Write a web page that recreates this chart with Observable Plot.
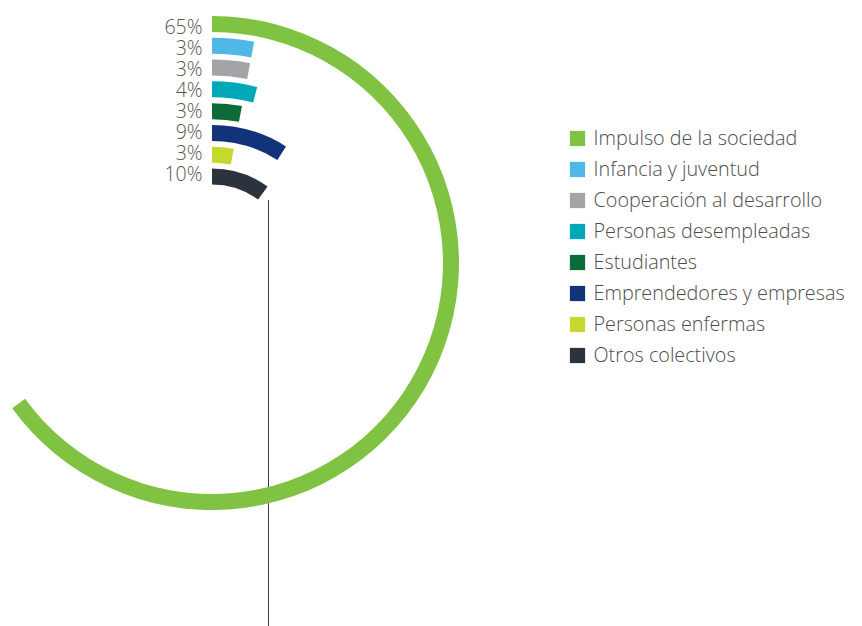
<!DOCTYPE html>
<html><head><meta charset="utf-8">
<script src="https://cdn.jsdelivr.net/npm/d3@7"></script>
<script src="https://cdn.jsdelivr.net/npm/@observablehq/plot@0.6"></script>
<style>
html,body{margin:0;padding:0;background:#fff;overflow:hidden;}
#chart{display:flex;flex-direction:row;width:862px;height:626px;}
#chart svg{display:block;flex:none;}
</style></head><body><div id="chart"></div>
<script>
const categories = ["Impulso de la sociedad","Infancia y juventud","Cooperación al desarrollo","Personas desempleadas","Estudiantes","Emprendedores y empresas","Personas enfermas","Otros colectivos"];
const shares = [65, 3, 3, 4, 3, 9, 3, 10];
const shareLabels = ["65%","3%","3%","4%","3%","9%","3%","10%"];
const colors = ["#80c342","#4fb8e8","#a2a4a7","#00a8b8","#0d6b3a","#12327a","#c5d92d","#2d333e"];
const leaderX = [268];

const data = categories.map((c, i) => ({category: c, share: shares[i], label: shareLabels[i]}));

const MAIN_W = 560, LEG_W = 302, H = 626, CX = 212, CY = 263, BAND = 16;
const font = "'Open Sans', sans-serif";
const ringY = {type: "point", domain: categories, range: [24, 176.5], padding: 0};
const yScale = Plot.scale({y: ringY});
const angle = Plot.scale({x: {type: "linear", domain: [0, 100], range: [0, 2 * Math.PI]}});
const color = Plot.scale({color: {type: "ordinal", domain: categories, range: colors}});

const arcs = () => {
  const g = d3.create("svg:g").attr("transform", `translate(${CX},${CY})`);
  const arc = d3.arc();
  g.selectAll("path").data(data).join("path")
    .attr("fill", d => color.apply(d.category))
    .attr("d", d => {
      const r = CY - yScale.apply(d.category);
      return arc({innerRadius: r - BAND / 2, outerRadius: r + BAND / 2, startAngle: 0, endAngle: angle.apply(d.share)});
    });
  return g.node();
};

const main = Plot.plot({
  width: MAIN_W, height: H,
  marginTop: 200, marginBottom: 0, marginLeft: 0, marginRight: 0,
  x: {type: "identity", axis: null},
  y: {...ringY, axis: null},
  style: {fontFamily: font, background: "transparent"},
  marks: [
    Plot.ruleX(leaderX, {stroke: "#3a3f47", strokeWidth: 1}),
    arcs,
    Plot.text(data, {x: CX, y: "category", text: "label", dx: -10, textAnchor: "end", fontSize: 19.5, fontWeight: 300, fill: "#555"})
  ]
});

const legend = Plot.plot({
  width: LEG_W, height: H, margin: 0,
  x: {type: "identity", axis: null},
  y: {type: "point", domain: categories, range: [138, 355], padding: 0, axis: null},
  color: {type: "ordinal", domain: categories, range: colors},
  style: {fontFamily: font, background: "transparent"},
  marks: [
    Plot.dot(categories, {x: 17, y: d => d, symbol: "square", r: 8.6, fill: d => d, stroke: null}),
    Plot.text(categories, {x: 33, y: d => d, text: d => d, textAnchor: "start", fontSize: 19.8, fontWeight: 300, fill: "#4d4d4d"})
  ]
});

document.getElementById("chart").append(main, legend);
</script></body></html>
